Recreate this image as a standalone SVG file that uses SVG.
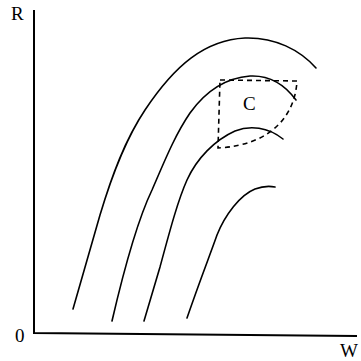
<svg xmlns="http://www.w3.org/2000/svg" width="361" height="361" viewBox="0 0 361 361">
<style>
.c{fill:none;stroke:#000;stroke-width:1.6;stroke-linecap:round}
.ax{fill:none;stroke:#000;stroke-width:2}
.d{fill:none;stroke:#000;stroke-width:1.6;stroke-dasharray:5 4}
text{font-family:"Liberation Serif",serif;font-size:19px;fill:#000}
</style>
<rect width="361" height="361" fill="#fff"/>
<g id="axes">
<path class="ax" d="M34,10 L34,333 L357,336"/>
<text x="11" y="20">R</text>
<text x="15" y="342">0</text>
<text x="340" y="357">W</text>
</g>
<g id="curves">
<path class="c" d="M73,309 L100,215 C112,175 125,140 145,110 C175,65 205,40 245,38 C275,37 300,50 316,68"/>
<path class="c" d="M112,321 C125,265 140,215 152,190 C165,160 175,135 190,113 C205,92 225,78 250,76 C270,75 285,85 296,100"/>
<path class="c" d="M144,321 L160,267 C170,230 178,200 187,180 C197,158 215,140 235,131 C250,125 268,127 283,139"/>
<path class="c" d="M187,318 C200,280 210,255 217,235 C225,215 240,195 255,189 C263,186 270,186 275,187"/>
</g>
<g id="C">
<path class="d" d="M220,80 L297,81 C295,115 272,145 218,148 Z"/>
<text x="243" y="110">C</text>
</g>
</svg>
